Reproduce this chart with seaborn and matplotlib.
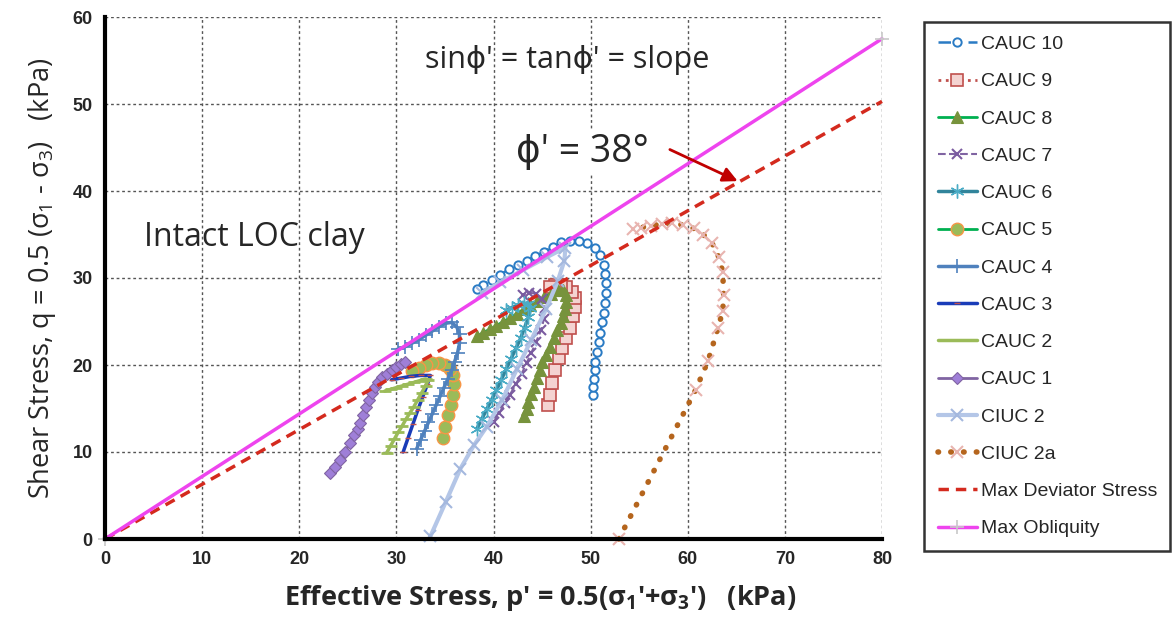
import matplotlib
matplotlib.use("Agg")
import matplotlib.pyplot as plt
import seaborn as sns
from matplotlib.ticker import MultipleLocator

# ---- stress paths: p' (kPa) and q (kPa) for each test ----
caut10_p = [50.2, 50.2, 50.3, 50.4, 50.5, 50.7, 50.9, 51.0, 51.2, 51.4, 51.5, 51.6, 51.6, 51.5, 51.4,
            51.0, 50.4, 49.6, 48.8, 47.9, 47.0, 46.1, 45.2, 44.3, 43.4, 42.5, 41.6, 40.7, 39.8, 38.9, 38.3]
caut10_q = [16.6, 17.5, 18.4, 19.4, 20.4, 21.5, 22.6, 23.7, 24.9, 26.0, 27.1, 28.3, 29.4, 30.5, 31.5,
            32.6, 33.5, 34.0, 34.3, 34.3, 34.1, 33.6, 33.0, 32.5, 32.0, 31.5, 31.0, 30.4, 29.8, 29.2, 28.7]

caut9_p = [45.6, 45.8, 46.0, 46.3, 46.7, 47.1, 47.5, 47.9, 48.2, 48.4, 48.4, 48.1, 47.5, 46.9, 46.3, 45.8]
caut9_q = [15.4, 16.6, 17.9, 19.4, 20.8, 21.9, 23.1, 24.2, 25.6, 26.7, 27.7, 28.4, 29.0, 29.2, 29.2, 29.0]

caut8_p = [43.1, 43.4, 43.6, 43.9, 44.2, 44.5, 44.8, 45.0, 45.4, 45.8, 46.2, 46.5, 46.9, 47.2, 47.4, 47.5,
           47.5, 47.2, 46.6, 45.9, 45.2, 44.5, 43.8, 43.1, 42.4, 41.7, 41.0, 40.3, 39.6, 38.9, 38.3]
caut8_q = [14.1, 15.0, 15.8, 16.7, 17.5, 18.5, 19.4, 20.3, 21.1, 22.1, 23.1, 24.0, 24.8, 25.6, 26.4, 27.2,
           28.0, 28.6, 28.6, 28.2, 27.8, 27.3, 26.9, 26.4, 25.9, 25.4, 25.0, 24.5, 24.1, 23.7, 23.3]

caut7_p = [40.0, 40.6, 41.2, 41.7, 42.3, 42.9, 43.4, 43.9, 44.4, 44.9, 45.2, 45.3, 45.0, 44.4, 43.7, 43.0]
caut7_q = [13.4, 14.5, 15.6, 16.6, 17.8, 19.0, 20.2, 21.4, 22.7, 24.0, 25.3, 26.6, 27.6, 28.2, 28.3, 28.1]

caut6_p = [38.3, 38.8, 39.3, 39.8, 40.3, 40.8, 41.3, 41.8, 42.3, 42.8, 43.2, 43.6, 43.8, 43.6, 43.1, 42.5, 41.9, 41.3]
caut6_q = [12.7, 13.8, 14.9, 16.0, 17.1, 18.3, 19.5, 20.7, 21.9, 23.1, 24.3, 25.5, 26.5, 27.0, 27.1, 26.9, 26.6, 26.3]

caut5_p = [34.8, 35.0, 35.3, 35.6, 35.8, 35.9, 35.8, 35.5, 35.0, 34.4, 33.7, 33.0, 32.3, 31.6]
caut5_q = [11.6, 12.9, 14.2, 15.4, 16.6, 17.8, 18.8, 19.5, 20.0, 20.2, 20.2, 20.0, 19.7, 19.3]

caut4_p = [32.1, 32.5, 32.9, 33.3, 33.7, 34.1, 34.5, 34.9, 35.3, 35.7, 36.0, 36.3, 36.5, 36.5, 36.2, 35.7,
           35.1, 34.4, 33.7, 33.0, 32.3, 31.6, 30.9, 30.2]
caut4_q = [10.4, 11.4, 12.4, 13.4, 14.4, 15.4, 16.4, 17.4, 18.4, 19.4, 20.4, 21.4, 22.5, 23.6, 24.4, 24.9,
           24.8, 24.4, 23.9, 23.4, 22.9, 22.5, 22.1, 21.8]

caut3_p = [30.7, 31.2, 31.7, 32.2, 32.7, 33.2, 33.5, 32.5, 31.5, 30.5, 29.5]
caut3_q = [10.0, 11.6, 13.2, 14.8, 16.3, 17.8, 18.8, 18.8, 18.7, 18.5, 18.3]

caut2_p = [29.0, 29.4, 29.8, 30.2, 30.6, 31.0, 31.4, 31.8, 32.2, 32.6, 33.0, 33.3, 33.0, 32.4, 31.8, 31.2,
           30.6, 30.0, 29.4, 28.8]
caut2_q = [9.9, 10.7, 11.5, 12.3, 13.0, 13.8, 14.5, 15.2, 16.0, 16.8, 17.6, 18.3, 18.4, 18.2, 18.0, 17.8,
           17.6, 17.4, 17.2, 17.0]

caut1_p = [23.2, 23.7, 24.2, 24.7, 25.2, 25.6, 26.0, 26.3, 26.6, 26.9, 27.2, 27.5, 27.8, 28.1, 28.5, 29.0,
           29.5, 30.0, 30.5, 30.9]
caut1_q = [7.6, 8.3, 9.1, 10.0, 11.0, 11.9, 12.6, 13.3, 14.2, 15.2, 16.0, 16.8, 17.5, 18.1, 18.6, 19.0,
           19.4, 19.8, 20.1, 20.4]

ciuc2_p = [33.5, 35.1, 36.6, 38.0, 39.3, 40.9, 42.4, 43.9, 45.4, 46.6, 47.3, 47.4, 45.5, 43.0, 40.7, 38.8]
ciuc2_q = [0.3, 4.3, 8.1, 10.8, 12.9, 16.0, 19.5, 22.9, 26.4, 29.6, 32.0, 33.5, 32.4, 30.9, 29.5, 28.3]

ciuc2a_p = [52.9, 60.8, 62.1, 63.1, 63.6, 63.7, 63.6, 63.2, 62.5, 61.6, 60.6, 59.5, 58.4, 57.3, 56.2, 55.2, 54.4]
ciuc2a_q = [0.0, 17.1, 20.5, 24.2, 26.2, 28.0, 30.7, 32.4, 34.0, 35.0, 35.7, 36.1, 36.3, 36.2, 36.0, 35.8, 35.6]

# failure envelopes
maxdev_p = [0.0, 80.0]
maxdev_q = [0.0, 50.3]
maxobl_p = [0.0, 80.0]
maxobl_q = [0.0, 57.5]

x_ticks = [0, 10, 20, 30, 40, 50, 60, 70, 80]
y_ticks = [0, 10, 20, 30, 40, 50, 60]

sns.set_style("white")
plt.rcParams["font.family"] = ["Liberation Sans", "DejaVu Sans"]
plt.rcParams["mathtext.fontset"] = "custom"
plt.rcParams["mathtext.rm"] = "Open Sans"
plt.rcParams["mathtext.it"] = "Open Sans:italic"
plt.rcParams["mathtext.bf"] = "Open Sans:bold"

fig = plt.figure(figsize=(11.72, 6.29), dpi=100)
ax = fig.add_axes([105 / 1172, 1 - 539 / 629, (882 - 105) / 1172, (539 - 17) / 629])

series = [
    ("CAUC 10", caut10_p, caut10_q, dict(color="#2A7BC4", lw=1.8, linestyle=(0, (5, 3, 1, 3)),
                                         marker="o", ms=6, mfc="white", mec="#2A7BC4", mew=1.4)),
    ("CAUC 9", caut9_p, caut9_q, dict(color="#C0504D", lw=2, linestyle=":", marker="s", ms=9,
                                      mfc="#F4D3D1", mec="#C0504D", mew=1.2)),
    ("CAUC 8", caut8_p, caut8_q, dict(color="#00B050", lw=2, marker="^", ms=8,
                                      mfc="#77933C", mec="#77933C", mew=0.8)),
    ("CAUC 7", caut7_p, caut7_q, dict(color="#8064A2", lw=1.5, linestyle="--", marker="x", ms=7,
                                      mec="#7A5BA0", mew=1.5)),
    ("CAUC 6", caut6_p, caut6_q, dict(color="#31849B", lw=2.5, marker=(6, 2, 0), ms=10,
                                      mec="#4BACC6", mew=1.0)),
    ("CAUC 5", caut5_p, caut5_q, dict(color="#00B050", lw=2, marker="o", ms=9,
                                      mfc="#9BBB59", mec="#F79646", mew=1.0)),
    ("CAUC 4", caut4_p, caut4_q, dict(color="#4F81BD", lw=2.5, marker="+", ms=10,
                                      mec="#4F81BD", mew=1.2)),
    ("CAUC 3", caut3_p, caut3_q, dict(color="#1A3CB8", lw=2.5, marker="_", ms=4,
                                      mec="#C0504D", mew=1.0)),
    ("CAUC 2", caut2_p, caut2_q, dict(color="#9BBB59", lw=2.5, marker="_", ms=9,
                                      mec="#9BBB59", mew=2.0)),
    ("CAUC 1", caut1_p, caut1_q, dict(color="#8064A2", lw=2, marker="D", ms=6,
                                      mfc="#9F7FD8", mec="#8064A2", mew=0.8)),
    ("CIUC 2", ciuc2_p, ciuc2_q, dict(color="#B4C6E7", lw=3, marker="x", ms=9,
                                      mec="#A4B8DE", mew=1.5)),
    ("CIUC 2a", ciuc2a_p, ciuc2a_q, dict(color="#B5651D", lw=4, linestyle=(0, (0.1, 2.2)),
                                         dash_capstyle="round", marker="x", ms=9,
                                         mec="#E8B4B0", mew=1.5)),
    ("Max Deviator Stress", maxdev_p, maxdev_q, dict(color="#D42A1E", lw=2.5,
                                                     linestyle=(0, (3, 2)))),
    ("Max Obliquity", maxobl_p, maxobl_q, dict(color="#EE44EE", lw=2.5, marker="+", ms=10,
                                               mec="#C8C8C8", mew=1.2)),
]

handles = []
for label, p, q, style in series:
    sns.lineplot(x=p, y=q, sort=False, estimator=None, ax=ax, legend=False, **style)
    line = ax.get_lines()[-1]
    line.set_label(label)
    line.set_clip_on(False)
    handles.append(line)

ax.set_xlim(0, 80)
ax.set_ylim(0, 60)
ax.set_xticks(x_ticks)
ax.set_yticks(y_ticks)
ax.set_xticklabels([str(v) for v in x_ticks], fontweight="bold", fontsize=13)
ax.set_yticklabels([str(v) for v in y_ticks], fontweight="bold", fontsize=13)
ax.xaxis.set_minor_locator(MultipleLocator(2))
ax.yaxis.set_minor_locator(MultipleLocator(2))
ax.tick_params(which="major", direction="inout", length=10, width=2.2, color="black", pad=4)
ax.tick_params(which="minor", direction="inout", length=5, width=1.3, color="black")
ax.grid(True, which="major", linestyle=(0, (2, 2)), color="#555555", lw=1.0)
ax.set_axisbelow(True)
for side in ("top", "right"):
    ax.spines[side].set_visible(False)
for side in ("left", "bottom"):
    ax.spines[side].set_linewidth(3)
    ax.spines[side].set_color("black")

label_family = ["Open Sans", "DejaVu Sans"]
ax.set_xlabel(r"Effective Stress, p' = 0.5($\mathregular{\sigma_1}$'+$\mathregular{\sigma_3}$')   (kPa)",
              fontsize=19.5, fontweight="bold", family=label_family)
ax.xaxis.set_label_coords(0.56, -0.085)
ax.set_ylabel(r"Shear Stress, q = 0.5 ($\mathregular{\sigma_1}$ - $\mathregular{\sigma_3}$)   (kPa)",
              fontsize=19.5, family=label_family, labelpad=10)

ax.text(47.6, 55.1, "sinϕ' = tanϕ' = slope", fontsize=22, family=label_family,
        ha="center", va="center")
ax.text(15.4, 34.6, "Intact LOC clay", fontsize=23, family=label_family,
        ha="center", va="center")
ax.text(49.1, 44.5, "ϕ' = 38°", fontsize=27, family=label_family, ha="center", va="center",
        bbox=dict(facecolor="white", edgecolor="none", pad=2))
ax.annotate("", xy=(65.4, 41.0), xytext=(57.9, 44.9),
            arrowprops=dict(arrowstyle="-|>", color="#C00000", lw=2, mutation_scale=22))

leg = fig.legend(handles=handles, loc="upper left",
                 bbox_to_anchor=(924 / 1172, 1 - 550 / 629, 246 / 1172, 528 / 629),
                 mode="expand", borderaxespad=0, fontsize=14, labelspacing=1.01,
                 handlelength=2.0, handletextpad=0.25, borderpad=0.7, frameon=True,
                 fancybox=False)
leg.get_frame().set_edgecolor("black")
leg.get_frame().set_linewidth(1.8)

fig.savefig("out.png", dpi=100)
